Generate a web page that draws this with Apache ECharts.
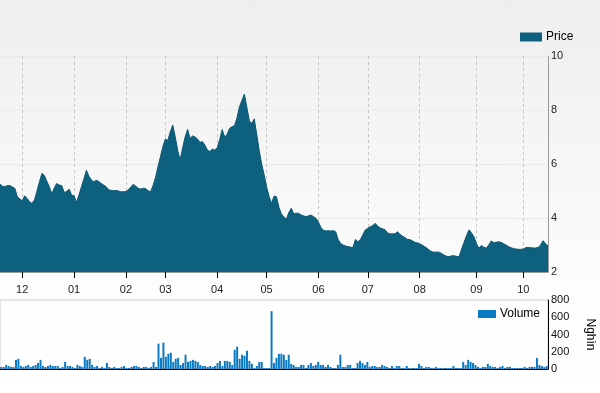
<!DOCTYPE html>
<html>
<head>
<meta charset="utf-8">
<script src="https://cdn.jsdelivr.net/npm/echarts@6/dist/echarts.min.js"></script>
<style>
html,body{margin:0;padding:0;}
body{background:linear-gradient(#eeeeee,#fdfdfd 75%,#ffffff);}
#c{width:600px;height:393px;}
</style>
</head>
<body>
<div id="c"></div>
<script>
// Month labels and trading days per month
const months = ['11','12','01','02','03','04','05','06','07','08','09','10'];
const tradingDays = [9,21,21,16,21,20,21,20,21,23,19,11];

// Daily closing price
const price = [
5.25,5.18,5.16,5.2,5.2,5.15,5.10,4.8,4.7,4.64,
4.82,4.72,4.6,4.54,4.68,5.0,5.35,5.65,5.57,5.35,
5.16,4.89,5.12,5.28,5.22,5.2,4.95,4.98,5.07,4.85,
4.82,4.58,4.85,5.16,5.45,5.77,5.55,5.41,5.34,5.40,
5.35,5.28,5.22,5.16,5.05,5.02,5.01,5.02,5.0,4.97,
4.97,4.98,5.04,5.15,5.25,5.18,5.1,5.07,5.1,5.09,
5.01,4.97,5.2,5.5,5.9,6.27,6.65,6.93,6.87,7.2,
7.44,7.0,6.5,6.15,6.6,7.0,7.28,6.95,7.04,7.0,
6.93,6.8,6.83,6.7,6.52,6.46,6.55,6.52,6.6,6.9,
7.28,7.0,7.1,7.32,7.38,7.42,7.7,8.12,8.35,8.59,
8.1,7.6,7.5,7.67,7.1,6.5,6.0,5.6,5.16,4.8,
4.54,4.81,4.79,4.4,4.15,4.05,3.95,4.2,4.36,4.15,
4.18,4.17,4.11,4.08,4.05,4.08,4.11,4.05,3.99,3.85,
3.65,3.55,3.52,3.53,3.52,3.53,3.49,3.2,3.06,3.0,
2.96,2.94,2.92,2.91,3.21,3.12,3.2,3.38,3.56,3.62,
3.68,3.72,3.80,3.7,3.63,3.6,3.56,3.45,3.41,3.42,
3.41,3.49,3.4,3.33,3.28,3.21,3.2,3.16,3.1,3.08,
3.04,3.0,2.94,2.88,2.8,2.75,2.73,2.74,2.73,2.68,
2.62,2.58,2.57,2.6,2.6,2.58,2.57,2.85,3.1,3.35,
3.56,3.45,3.3,3.06,2.88,2.98,2.92,2.88,3.0,3.15,
3.09,3.1,3.12,3.10,3.05,3.0,2.94,2.9,2.87,2.85,
2.84,2.84,2.85,2.9,2.91,2.9,2.89,2.89,2.91,3.0,
3.16,3.05,2.96
];

// Daily volume (thousands)
const volume = [
24,24,47,35,24,24,106,118,35,24,35,47,24,35,47,70,106,35,24,35,47,35,35,35,12,24,82,35,35,24,12,47,35,24,141,106,118,
47,24,35,12,24,12,70,24,12,24,12,12,24,35,12,12,24,35,35,24,12,24,24,12,24,82,24,294,129,306,141,176,188,82,118,129,47,70,
165,82,94,106,94,82,47,35,35,24,35,24,35,70,94,35,94,94,82,47,223,259,118,165,153,212,94,59,12,35,82,82,12,12,12,670,70,
129,176,176,165,106,165,59,47,24,24,47,47,12,47,70,35,47,82,47,47,24,47,24,12,12,47,165,24,24,47,47,12,12,70,94,70,47,
82,24,35,35,24,24,47,35,24,12,35,12,35,35,12,12,35,12,12,12,12,59,35,12,24,24,12,12,24,12,12,12,12,12,12,35,12,12,12,
82,47,106,82,70,47,24,12,24,24,59,35,24,24,12,24,35,12,24,24,12,12,12,12,12,24,12,24,24,24,129,47,35,24,35
];

const priceTicks = [2,4,6,8,10];
const volumeTicks = [0,200,400,600,800];

// Build category list (one per trading day)
const categories = [];
months.forEach((m, k) => {
  for (let d = 1; d <= tradingDays[k]; d++) categories.push(m + '|' + d);
});

const isMonthStart = (i, v) => i > 0 && String(v).split('|')[1] === '1';
const font = 'Liberation Sans, Arial, sans-serif';

const chart = echarts.init(document.getElementById('c'), null, {renderer: 'canvas'});
chart.setOption({
  backgroundColor: 'transparent',
  animation: false,
  textStyle: {fontFamily: font},
  legend: [
    {data: ['Price'], left: 520, top: 31, itemWidth: 22, itemHeight: 9, icon: 'rect', itemGap: 5,
     textStyle: {fontSize: 12, color: '#000', fontFamily: font, padding: [0,0,0,-1]}, padding: 0},
    {data: ['Volume'], left: 478, top: 308, itemWidth: 18, itemHeight: 8, icon: 'rect',
     textStyle: {fontSize: 12, color: '#000', fontFamily: font, padding: [0,0,0,-1]}, padding: 0}
  ],
  grid: [
    {left: 0, right: 52, top: 56, bottom: 121, outerBoundsMode: 'none', containLabel: false},
    {left: 0, right: 52, top: 300, bottom: 24, outerBoundsMode: 'none', containLabel: false,
     show: true, borderColor: '#cccccc', borderWidth: 1, backgroundColor: 'rgba(255,255,255,0.4)'}
  ],
  xAxis: [
    {type: 'category', gridIndex: 0, data: categories, boundaryGap: false,
     axisLine: {lineStyle: {color: '#999999'}},
     axisTick: {interval: isMonthStart, length: 6, lineStyle: {color: '#000'}},
     axisLabel: {interval: isMonthStart, formatter: v => v.split('|')[0], fontSize: 11, color: '#222', margin: 12, fontFamily: font},
     splitLine: {show: true, interval: isMonthStart, lineStyle: {color: '#c4c4c4', type: [3,3], width: 1}}},
    {type: 'category', gridIndex: 1, data: categories, boundaryGap: true,
     axisLine: {lineStyle: {color: '#000', width: 1}},
     axisTick: {show: false}, axisLabel: {show: false}, splitLine: {show: false}}
  ],
  yAxis: [
    {type: 'value', gridIndex: 0, position: 'right', min: priceTicks[0], max: priceTicks[priceTicks.length-1], interval: 2,
     axisLine: {show: true, lineStyle: {color: '#999999'}}, axisTick: {show: false},
     axisLabel: {fontSize: 11, color: '#222', margin: 3, fontFamily: font},
     splitLine: {show: true, lineStyle: {color: '#ebebeb'}}},
    {type: 'value', gridIndex: 1, position: 'right', min: volumeTicks[0], max: volumeTicks[volumeTicks.length-1], interval: 200,
     name: 'Nghìn', nameLocation: 'middle', nameRotate: -90, nameGap: 36,
     nameTextStyle: {fontSize: 12, color: '#000', fontFamily: font},
     axisLine: {show: true, lineStyle: {color: '#000'}}, axisTick: {show: false},
     axisLabel: {fontSize: 11, color: '#111', margin: 3, fontFamily: font},
     splitLine: {show: false}}
  ],
  series: [
    {name: 'Price', type: 'line', xAxisIndex: 0, yAxisIndex: 0, data: price,
     showSymbol: false, symbol: 'none', smooth: false,
     itemStyle: {color: '#0e617e'},
     lineStyle: {color: '#0b5874', width: 1},
     areaStyle: {color: '#0e617e', opacity: 1, origin: 'start'}},
    {name: 'Volume', type: 'bar', xAxisIndex: 1, yAxisIndex: 1, data: volume,
     barWidth: 2, itemStyle: {color: '#0a7bc2'}}
  ]
});
</script>
</body>
</html>
